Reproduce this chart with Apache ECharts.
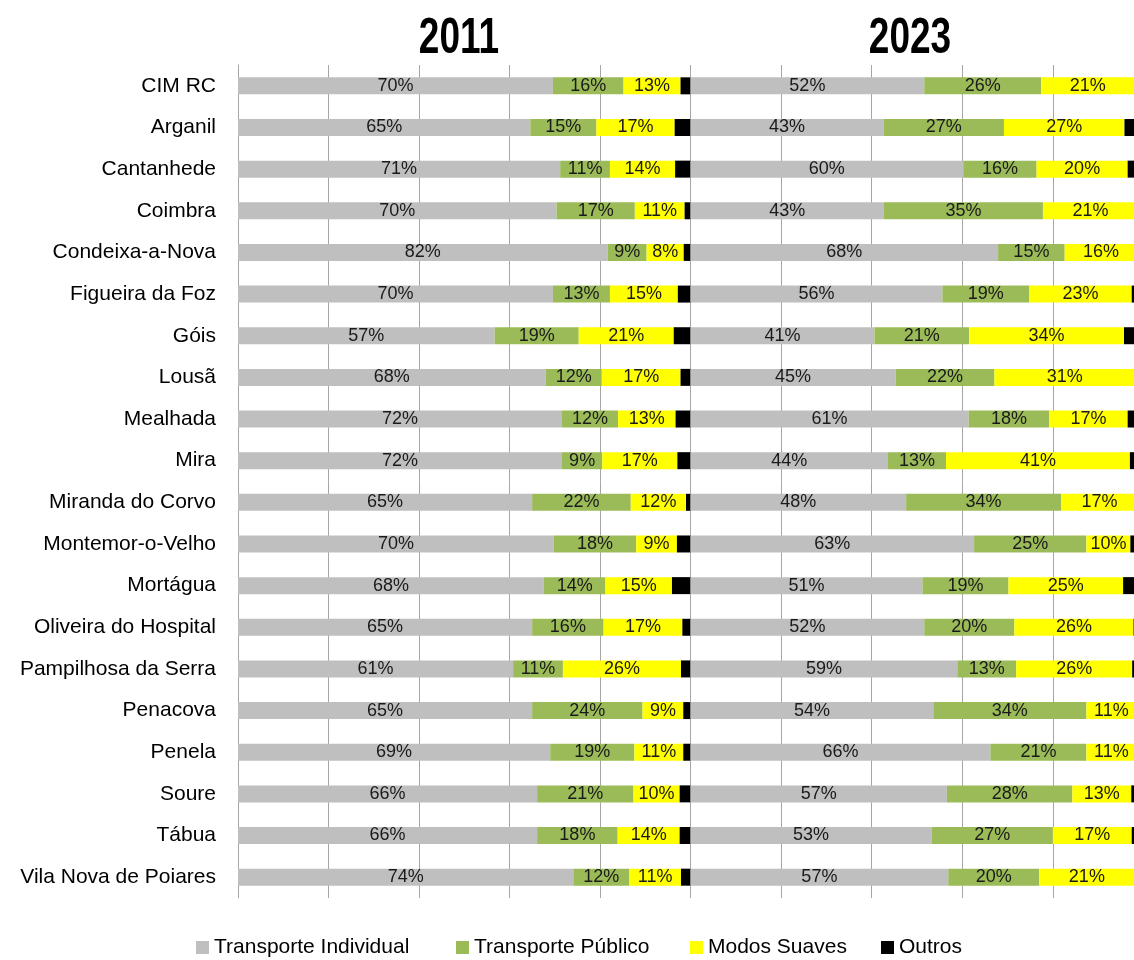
<!DOCTYPE html>
<html><head><meta charset="utf-8">
<script src="https://cdn.jsdelivr.net/npm/echarts@6/dist/echarts.min.js"></script>
<style>html,body{margin:0;padding:0;background:#fff;overflow:hidden}#c{width:1134px;height:960px}</style>
</head><body><div id="c"></div>
<script>
const categories = ['CIM RC','Arganil','Cantanhede','Coimbra','Condeixa-a-Nova','Figueira da Foz','Góis','Lousã','Mealhada','Mira','Miranda do Corvo','Montemor-o-Velho','Mortágua','Oliveira do Hospital','Pampilhosa da Serra','Penacova','Penela','Soure','Tábua','Vila Nova de Poiares'];
const panelTitles = ['2011', '2023'];
const seriesNames = ['Transporte Individual', 'Transporte Público', 'Modos Suaves', 'Outros'];

const individual2011 = [69.6, 64.6, 71.2, 70.4, 81.7, 69.6, 56.7, 68.0, 71.6, 71.6, 65.0, 69.8, 67.6, 65.0, 60.8, 65.0, 69.0, 66.1, 66.1, 74.1];
const publico2011    = [15.6, 14.6, 11.0, 17.3, 8.6, 12.6, 18.6, 12.4, 12.4, 8.9, 21.8, 18.2, 13.6, 15.8, 11.0, 24.4, 18.6, 21.3, 17.8, 12.4];
const suaves2011     = [12.6, 17.3, 14.4, 11.0, 8.2, 15.0, 21.0, 17.4, 12.7, 16.6, 12.2, 9.0, 14.7, 17.4, 26.1, 9.0, 10.8, 10.2, 13.7, 11.4];
const outros2011     = [2.2, 3.5, 3.4, 1.3, 1.5, 2.8, 3.7, 2.2, 3.3, 2.9, 1.0, 3.0, 4.1, 1.8, 2.1, 1.6, 1.6, 2.4, 2.4, 2.1];

const individual2023 = [51.6, 42.6, 60.2, 42.7, 67.9, 55.6, 40.6, 45.3, 61.4, 43.6, 47.6, 62.6, 51.2, 51.6, 58.9, 53.6, 66.2, 56.6, 53.2, 56.9];
const publico2023    = [25.8, 26.6, 16.2, 35.1, 14.7, 19.2, 20.9, 21.8, 17.8, 12.8, 34.2, 24.8, 19.0, 19.9, 13.0, 33.8, 21.2, 27.7, 26.8, 20.1];
const suaves2023     = [20.6, 26.6, 20.1, 21.0, 16.0, 22.6, 34.2, 31.0, 17.3, 40.6, 17.0, 9.7, 25.3, 26.3, 25.6, 11.0, 11.0, 13.0, 17.4, 21.0];
const outros2023     = [2.0, 4.2, 3.5, 1.2, 1.4, 2.6, 4.3, 1.9, 3.5, 3.0, 1.2, 2.9, 4.5, 2.2, 2.5, 1.6, 1.6, 2.7, 2.6, 2.0];

const colors = ['#BFBFBF', '#9BBB59', '#FFFF00', '#000000'];
const FONT = "'Liberation Sans', Arial, sans-serif";

const panels = [
  [individual2011, publico2011, suaves2011, outros2011],
  [individual2023, publico2023, suaves2023, outros2023]
];

const series = [];
panels.forEach((vals, p) => {
  vals.forEach((arr, i) => {
    series.push({
      name: seriesNames[i],
      type: 'bar',
      stack: 'p' + p,
      xAxisIndex: p,
      yAxisIndex: p,
      barWidth: 17,
      data: arr,
      itemStyle: { color: colors[i] },
      label: {
        show: i < 3,
        position: 'inside',
        fontSize: 18,
        fontFamily: FONT,
        color: '#1a1a1a',
        formatter: pr => Math.round(pr.value) + '%'
      },
      emphasis: { disabled: true },
      animation: false
    });
  });
});

const gridColor = '#a6a6a6';
const xAxisBase = {
  type: 'value', min: 0, max: 100, interval: 20,
  axisLabel: { show: false }, axisLine: { show: false }, axisTick: { show: false },
  splitLine: { lineStyle: { color: gridColor, width: 1 } }
};

const legendLefts = [196, 456, 690, 881];
const titleCenters = [459, 910];

const option = {
  backgroundColor: '#ffffff',
  animation: false,
  graphic: panelTitles.map((t, i) => ({
    type: 'text', x: titleCenters[i], y: 39, scaleX: 0.74, scaleY: 1,
    style: { text: t, fill: '#000', textAlign: 'center', textVerticalAlign: 'middle',
      font: "bold 50px 'Liberation Sans', Arial, sans-serif" }
  })),
  grid: [
    { left: 238, width: 452.5, top: 65, height: 833, outerBoundsMode: 'none', containLabel: false },
    { left: 690.5, width: 453, top: 65, height: 833, outerBoundsMode: 'none', containLabel: false }
  ],
  xAxis: [
    Object.assign({ gridIndex: 0 }, xAxisBase),
    Object.assign({ gridIndex: 1 }, xAxisBase)
  ],
  yAxis: [
    { gridIndex: 0, type: 'category', data: categories, inverse: true,
      axisLine: { lineStyle: { color: gridColor } },
      axisTick: { length: 8, lineStyle: { color: gridColor } },
      axisLabel: { fontSize: 21, color: '#000', margin: 22, fontFamily: FONT } },
    { gridIndex: 1, type: 'category', data: categories, inverse: true, show: false }
  ],
  legend: seriesNames.map((n, i) => ({
    data: [n], left: legendLefts[i], top: 937, padding: 0,
    icon: 'rect', itemWidth: 13, itemHeight: 13,
    textStyle: { fontSize: 21, color: '#000', fontFamily: FONT },
    selectedMode: false
  })),
  series: series
};

const chart = echarts.init(document.getElementById('c'), null, { renderer: 'canvas' });
chart.setOption(option);
</script>
</body></html>
